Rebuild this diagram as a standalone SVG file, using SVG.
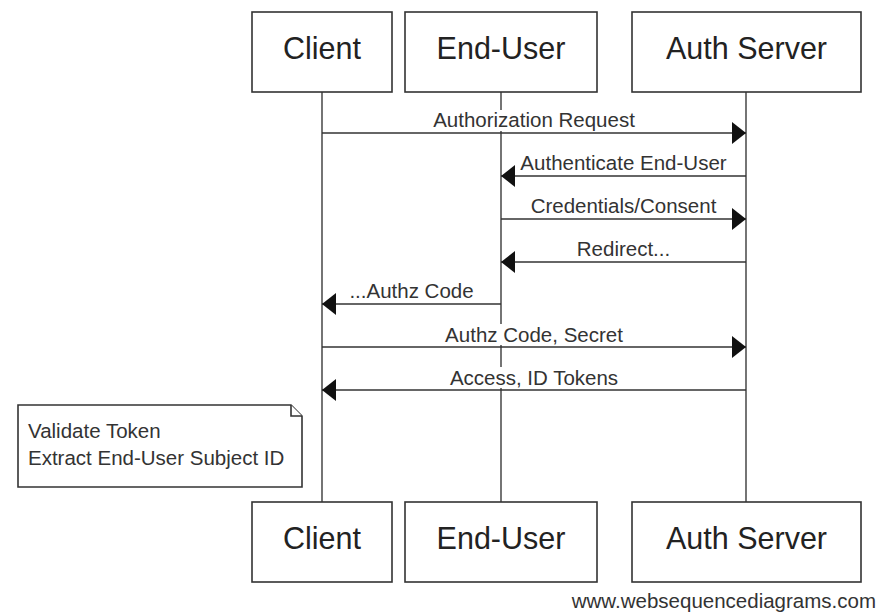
<svg xmlns="http://www.w3.org/2000/svg" width="879" height="614" viewBox="0 0 879 614">
  <defs>
    <style>
      .actor rect { fill: #ffffff; stroke: #333333; stroke-width: 1.6; }
      .actor text { font-family: "Liberation Sans", Arial, sans-serif; font-size: 30.5px; fill: #222222; text-anchor: middle; }
      .lifeline { stroke: #3a3a3a; stroke-width: 1.4; }
      .msg line { stroke: #333333; stroke-width: 1.6; }
      .msg rect { fill: #ffffff; stroke: none; }
      .msg text { font-family: "Liberation Sans", Arial, sans-serif; font-size: 20.5px; fill: #333333; text-anchor: middle; }
      .note path { fill: #ffffff; stroke: #333333; stroke-width: 1.6; stroke-linejoin: miter; }
      .note text { font-family: "Liberation Sans", Arial, sans-serif; font-size: 20.5px; fill: #333333; }
      .credit { font-family: "Liberation Sans", Arial, sans-serif; font-size: 20.5px; fill: #333333; text-anchor: end; }
    </style>
    <marker id="head" viewBox="0 0 14 22" refX="14" refY="11" markerWidth="14" markerHeight="22" markerUnits="userSpaceOnUse" orient="auto">
      <path d="M0,0 L14,11 L0,22 Z" fill="#111111"/>
    </marker>
  </defs>

  <rect width="879" height="614" fill="#ffffff"/>

  <!-- lifelines -->
  <g id="lifelines">
    <line class="lifeline" x1="322" y1="92" x2="322" y2="502"/>
    <line class="lifeline" x1="501" y1="92" x2="501" y2="502"/>
    <line class="lifeline" x1="746" y1="92" x2="746" y2="502"/>
  </g>

  <!-- participants, top -->
  <g id="client-top" class="actor">
    <rect x="252" y="12" width="140" height="80"/>
    <text x="322" y="59">Client</text>
  </g>
  <g id="enduser-top" class="actor">
    <rect x="405" y="12" width="192" height="80"/>
    <text x="501" y="59">End-User</text>
  </g>
  <g id="authserver-top" class="actor">
    <rect x="632" y="12" width="229" height="80"/>
    <text x="746.5" y="59">Auth Server</text>
  </g>

  <!-- messages -->
  <g id="connectors" class="msg">
    <rect x="430" y="110" width="207" height="21"/>
    <line x1="322" y1="133" x2="746" y2="133" marker-end="url(#head)"/>
    <text x="534" y="127">Authorization Request</text>

    <rect x="516" y="153" width="213" height="21"/>
    <line x1="746" y1="176" x2="501" y2="176" marker-end="url(#head)"/>
    <text x="623.5" y="170">Authenticate End-User</text>

    <rect x="528" y="196" width="191" height="21"/>
    <line x1="501" y1="219" x2="746" y2="219" marker-end="url(#head)"/>
    <text x="623.5" y="213">Credentials/Consent</text>

    <rect x="575" y="239" width="97" height="21"/>
    <line x1="746" y1="262" x2="501" y2="262" marker-end="url(#head)"/>
    <text x="623.5" y="256">Redirect...</text>

    <rect x="346" y="281" width="131" height="21"/>
    <line x1="501" y1="304" x2="322" y2="304" marker-end="url(#head)"/>
    <text x="411.5" y="298">...Authz Code</text>

    <rect x="441" y="324" width="184" height="21"/>
    <line x1="322" y1="347" x2="746" y2="347" marker-end="url(#head)"/>
    <text x="534" y="342">Authz Code, Secret</text>

    <rect x="443" y="367" width="181" height="21"/>
    <line x1="746" y1="390" x2="322" y2="390" marker-end="url(#head)"/>
    <text x="534" y="385">Access, ID Tokens</text>
  </g>

  <!-- note on Client -->
  <g id="note" class="note">
    <path d="M18,405 H291 L302,416 V487 H18 Z"/>
    <path d="M291,405 V416 H302" fill="none"/>
    <text x="28" y="438">Validate Token</text>
    <text x="28" y="465">Extract End-User Subject ID</text>
  </g>

  <!-- participants, bottom -->
  <g id="client-bottom" class="actor">
    <rect x="252" y="502" width="140" height="80"/>
    <text x="322" y="549">Client</text>
  </g>
  <g id="enduser-bottom" class="actor">
    <rect x="405" y="502" width="192" height="80"/>
    <text x="501" y="549">End-User</text>
  </g>
  <g id="authserver-bottom" class="actor">
    <rect x="632" y="502" width="229" height="80"/>
    <text x="746.5" y="549">Auth Server</text>
  </g>

  <text class="credit" x="876" y="608">www.websequencediagrams.com</text>
</svg>
